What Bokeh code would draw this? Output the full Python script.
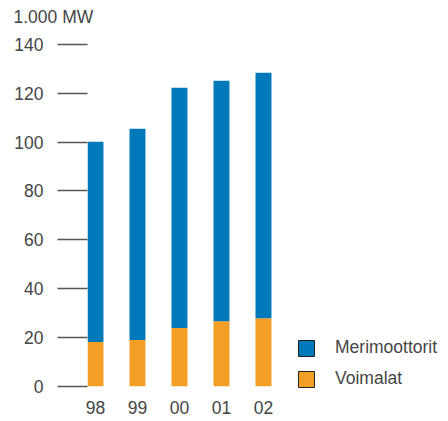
from bokeh.plotting import figure
from bokeh.models import Range1d, Legend, LegendItem, FixedTicker, ColumnDataSource, Title
from bokeh.embed import file_html
from bokeh.resources import INLINE

years = ["98", "99", "00", "01", "02"]
voimalat = [18.2, 19.0, 23.9, 26.7, 27.9]
merimoottorit = [82.0, 86.5, 98.4, 98.5, 100.5]
y_ticks = [0, 20, 40, 60, 80, 100, 120, 140]
unit_label = "1.000 MW"

BLUE = "#0079BA"
ORANGE = "#F39F25"
FONT = "Liberation Sans"
TXT = "#454545"

pos = list(range(len(years)))
source = ColumnDataSource(dict(x=pos, Voimalat=voimalat, Merimoottorit=merimoottorit))

# frame extends to the right edge so the legend can sit inside it
p = figure(x_range=Range1d(-0.19, 8.405),
           y_range=Range1d(-1.3, 140), width=448, height=421,
           output_backend="svg", toolbar_location=None,
           min_border_left=87, min_border_right=0, min_border_top=44, min_border_bottom=32)

p.vbar_stack(["Voimalat", "Merimoottorit"], x="x", width=0.38, source=source,
             color=[ORANGE, BLUE], line_color=None)

# hidden duplicates with outlines, used only for the legend swatches
sw_orange, sw_blue = p.vbar_stack(["Voimalat", "Merimoottorit"], x="x", width=0.38, source=source,
                                  fill_color=[ORANGE, BLUE], line_color="#222222", line_width=1)
sw_orange.visible = False
sw_blue.visible = False

legend = Legend(items=[LegendItem(label="Merimoottorit", renderers=[sw_blue]),
                       LegendItem(label="Voimalat", renderers=[sw_orange])],
                location=(209, 0), margin=0, padding=0, spacing=10,
                glyph_width=20, glyph_height=20, label_height=20, label_standoff=19,
                label_text_font=FONT, label_text_font_size="17.5px", label_text_color=TXT,
                inactive_fill_alpha=0,
                border_line_color=None, background_fill_alpha=0)
p.add_layout(legend)

# trailing empty line lifts the unit label above the top tick
p.title = Title(text=unit_label + "\n", align="left", offset=-74, standoff=0, vertical_align="bottom",
                text_line_height=0.9,
                text_font=FONT, text_font_size="17.5px", text_font_style="normal", text_color=TXT)

p.grid.visible = False
p.outline_line_color = None

ya = p.yaxis[0]
ya.ticker = FixedTicker(ticks=y_ticks)
ya.axis_line_color = None
ya.major_tick_in = 0
ya.major_tick_out = 30
ya.major_tick_line_color = "#555555"
ya.major_tick_line_width = 1.3
ya.minor_tick_line_color = None
ya.major_label_standoff = 14
ya.major_label_text_font = FONT
ya.major_label_text_font_size = "17.5px"
ya.major_label_text_color = TXT

xa = p.xaxis[0]
xa.ticker = FixedTicker(ticks=pos)
xa.major_label_overrides = {i: y for i, y in zip(pos, years)}
xa.axis_line_color = None
xa.major_tick_in = 0
xa.major_tick_out = 0
xa.major_tick_line_color = None
xa.minor_tick_line_color = None
xa.major_label_standoff = 11
xa.major_label_text_font = FONT
xa.major_label_text_font_size = "17.5px"
xa.major_label_text_color = TXT

open("out.html", "w").write(file_html(p, INLINE))
